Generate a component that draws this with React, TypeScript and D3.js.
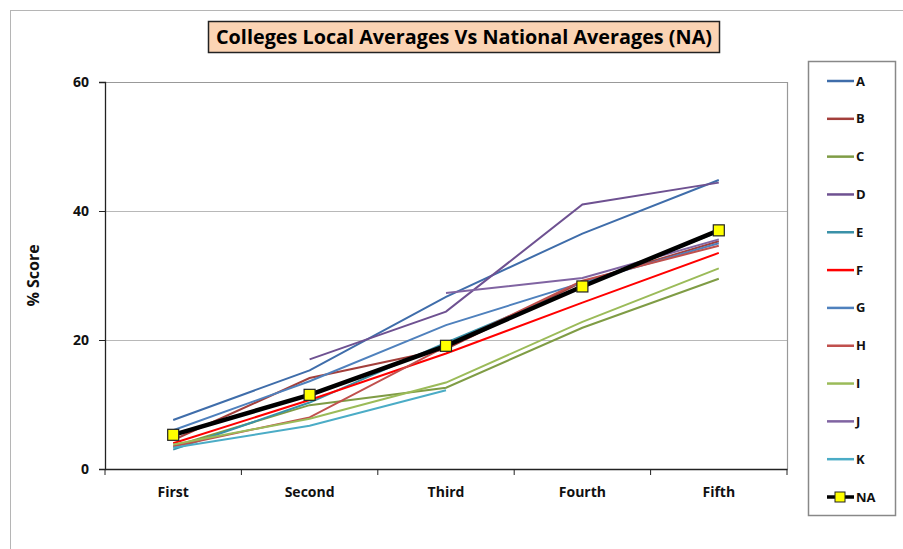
// @ts-nocheck
import { useRef, useEffect } from "react";
import * as d3 from "d3";

const categories = ["First", "Second", "Third", "Fourth", "Fifth"];
const yTicks = [0, 20, 40, 60];

const seriesNames = ["A", "B", "C", "D", "E", "F", "G", "H", "I", "J", "K"];
const seriesColors = [
  "#3F6DAA", "#A33F3B", "#7F9C45", "#6E5191", "#3A91A8", "#FF0000",
  "#4F81BD", "#C0504D", "#9BBB59", "#8064A2", "#4BACC6",
];

const valuesA = [7.6, 15.3, 26.7, 36.5, 44.8];
const valuesB = [4.5, 14.1, 18.6, 29.0, 35.3];
const valuesC = [3.5, 9.9, 12.6, 21.9, 29.5];
const valuesD = [null, 17.0, 24.4, 41.0, 44.4];
const valuesE = [3.0, 10.3, 19.6, 28.4, 36.8];
const valuesF = [4.0, 10.7, 17.9, 25.8, 33.5];
const valuesG = [6.0, 13.6, 22.3, 28.9, 35.0];
const valuesH = [3.5, 8.0, 19.0, 29.2, 34.6];
const valuesI = [3.8, 7.8, 13.4, 22.8, 31.1];
const valuesJ = [null, null, 27.3, 29.6, 35.6];
const valuesK = [3.3, 6.7, 12.2, null, null];
const valuesNA = [5.3, 11.5, 19.1, 28.3, 37.0];

const allValues = [valuesA, valuesB, valuesC, valuesD, valuesE, valuesF, valuesG, valuesH, valuesI, valuesJ, valuesK];

const LineChart = ({ width = 903, height = 549 }) => {
  const svgRef = useRef();

  useEffect(() => {
    const svg = d3.select(svgRef.current);
    svg.selectAll("*").remove();

    const margin = { top: 82, right: 116, bottom: 80, left: 105 };
    const chartWidth = width - margin.left - margin.right;
    const chartHeight = height - margin.top - margin.bottom;
    const font = "'Open Sans', 'Noto Sans', sans-serif";

    svg.attr("width", width).attr("height", height);

    // marco exterior
    svg.append("rect")
      .attr("x", 10.5).attr("y", 10.5)
      .attr("width", 900).attr("height", 560)
      .attr("fill", "white").attr("stroke", "#b5b5b5");

    // titulo
    svg.append("rect")
      .attr("x", 208.5).attr("y", 21.5)
      .attr("width", 511).attr("height", 31)
      .attr("fill", "#FBD4B4").attr("stroke", "#222").attr("stroke-width", 1.5);
    svg.append("text")
      .attr("x", 464).attr("y", 44)
      .attr("text-anchor", "middle")
      .attr("font-family", font)
      .attr("font-weight", "bold")
      .attr("font-size", 19)
      .attr("textLength", 496)
      .attr("lengthAdjust", "spacingAndGlyphs")
      .text("Colleges Local Averages Vs National Averages (NA)");

    const x = d3.scaleBand().domain(categories).range([0, chartWidth]);
    const y = d3.scaleLinear().domain([0, 60]).range([chartHeight, 0]);

    const chart = svg.append("g")
      .attr("transform", `translate(${margin.left},${margin.top})`);

    // lineas de cuadricula
    chart.append("g")
      .selectAll("line")
      .data([20, 40])
      .enter()
      .append("line")
      .attr("x1", 0).attr("x2", chartWidth)
      .attr("y1", (d) => y(d) + 0.5).attr("y2", (d) => y(d) + 0.5)
      .attr("stroke", "#b8b8b8").attr("stroke-width", 1.2);

    // borde del area
    chart.append("path")
      .attr("d", `M0,0.5H${chartWidth + 0.5}V${chartHeight}`)
      .attr("fill", "none").attr("stroke", "#999").attr("stroke-width", 1.2);

    const yAxis = chart.append("g")
      .call(d3.axisLeft(y).tickValues(yTicks).tickSize(6).tickPadding(10));
    yAxis.select(".domain").attr("stroke", "#222").attr("stroke-width", 1.3);
    yAxis.selectAll(".tick line").attr("stroke", "#222");
    yAxis.selectAll(".tick text")
      .attr("font-family", font).attr("font-weight", "bold")
      .attr("font-size", 14).attr("fill", "#111");

    const xAxis = chart.append("g")
      .attr("transform", `translate(0,${chartHeight})`)
      .call(d3.axisBottom(x).tickSize(0).tickPadding(18));
    xAxis.select(".domain").attr("stroke", "#222").attr("stroke-width", 1.3);
    xAxis.selectAll(".tick text")
      .attr("font-family", font).attr("font-weight", "bold")
      .attr("font-size", 14).attr("fill", "#111");
    // marcas entre categorias
    xAxis.append("g")
      .selectAll("line")
      .data(d3.range(categories.length + 1))
      .enter()
      .append("line")
      .attr("x1", (i) => i * x.bandwidth()).attr("x2", (i) => i * x.bandwidth())
      .attr("y1", 0).attr("y2", 6)
      .attr("stroke", "#222");

    svg.append("text")
      .attr("transform", `translate(39,${margin.top + chartHeight / 2}) rotate(-90)`)
      .attr("text-anchor", "middle")
      .attr("font-family", font).attr("font-weight", "bold")
      .attr("font-size", 16).attr("fill", "#111")
      .text("% Score");

    const cx = (i) => x(categories[i]) + x.bandwidth() / 2;
    const line = d3.line()
      .defined((d) => d != null)
      .x((d, i) => cx(i))
      .y((d) => y(d));

    allValues.forEach((vals, k) => {
      chart.append("path")
        .attr("d", line(vals))
        .attr("fill", "none")
        .attr("stroke", seriesColors[k])
        .attr("stroke-width", 2);
    });

    chart.append("path")
      .attr("d", line(valuesNA))
      .attr("fill", "none")
      .attr("stroke", "#000")
      .attr("stroke-width", 4.5);
    chart.selectAll(".marker")
      .data(valuesNA)
      .enter()
      .append("rect")
      .attr("class", "marker")
      .attr("x", (d, i) => cx(i) - 5.5)
      .attr("y", (d) => y(d) - 5.5)
      .attr("width", 11).attr("height", 11)
      .attr("fill", "#FFFF00").attr("stroke", "#222").attr("stroke-width", 1.2);

    // leyenda
    const legend = svg.append("g");
    legend.append("rect")
      .attr("x", 808.5).attr("y", 61.5)
      .attr("width", 87).attr("height", 454)
      .attr("fill", "white").attr("stroke", "#888").attr("stroke-width", 1.5);

    const legendNames = [...seriesNames, "NA"];
    const ly = d3.scalePoint().domain(legendNames).range([81, 497]);
    const item = legend.selectAll(".item")
      .data(legendNames)
      .enter()
      .append("g")
      .attr("transform", (d) => `translate(0,${ly(d)})`);
    item.append("line")
      .attr("x1", 827).attr("x2", 854)
      .attr("stroke", (d, i) => (i < seriesColors.length ? seriesColors[i] : "#000"))
      .attr("stroke-width", (d, i) => (i < seriesColors.length ? 2.5 : 3.5));
    item.filter((d) => d === "NA")
      .append("rect")
      .attr("x", 835).attr("y", -5)
      .attr("width", 10).attr("height", 10)
      .attr("fill", "#FFFF00").attr("stroke", "#222").attr("stroke-width", 1);
    item.append("text")
      .attr("x", 856).attr("dy", "0.35em")
      .attr("font-family", font).attr("font-weight", "bold")
      .attr("font-size", 13).attr("fill", "#111")
      .text((d) => d);
  }, []);

  return (
    <svg ref={svgRef} style={{ position: "absolute", left: 0, top: 0 }}></svg>
  );
};

export default function App() {
  return <LineChart />;
}
